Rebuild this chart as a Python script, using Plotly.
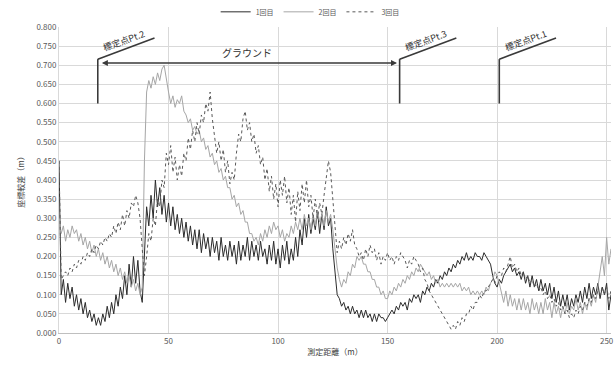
import plotly.graph_objects as go

# ---- data ----
distance_m = list(range(0, 253))

series1_label = "1回目"
series1 = [
    0.45, 0.10, 0.14, 0.08, 0.13, 0.09, 0.12, 0.07, 0.10, 0.06,
    0.09, 0.05, 0.08, 0.04, 0.06, 0.03, 0.05, 0.02, 0.04, 0.02,
    0.05, 0.03, 0.07, 0.04, 0.08, 0.05, 0.10, 0.07, 0.12, 0.09,
    0.15, 0.10, 0.18, 0.12, 0.20, 0.13, 0.19, 0.11, 0.08, 0.20,
    0.33, 0.28, 0.36, 0.30, 0.40, 0.33, 0.38, 0.31, 0.36, 0.29,
    0.34, 0.28, 0.33, 0.27, 0.31, 0.26, 0.30, 0.25, 0.29, 0.24,
    0.28, 0.23, 0.27, 0.22, 0.27, 0.21, 0.26, 0.22, 0.25, 0.20,
    0.25, 0.21, 0.24, 0.19, 0.25, 0.20, 0.23, 0.19, 0.24, 0.20,
    0.23, 0.18, 0.24, 0.19, 0.23, 0.20, 0.25, 0.19, 0.24, 0.20,
    0.23, 0.19, 0.24, 0.20, 0.22, 0.18, 0.23, 0.19, 0.24, 0.18,
    0.22, 0.17, 0.23, 0.19, 0.24, 0.18, 0.22, 0.19, 0.25, 0.20,
    0.27, 0.23, 0.30, 0.25, 0.31, 0.26, 0.30, 0.27, 0.32, 0.26,
    0.31, 0.27, 0.33, 0.28, 0.30, 0.22, 0.15, 0.10, 0.09, 0.07,
    0.08, 0.06, 0.07, 0.05, 0.07, 0.05, 0.06, 0.04, 0.06, 0.04,
    0.06, 0.04, 0.05, 0.03, 0.05, 0.03, 0.05, 0.04, 0.04, 0.03,
    0.04, 0.05, 0.06, 0.05, 0.07, 0.06, 0.08, 0.07, 0.08, 0.06,
    0.09, 0.08, 0.10, 0.09, 0.10, 0.08, 0.11, 0.10, 0.12, 0.11,
    0.13, 0.12, 0.14, 0.13, 0.15, 0.14, 0.16, 0.15, 0.17, 0.16,
    0.18, 0.17, 0.19, 0.18, 0.20, 0.19, 0.21, 0.19, 0.20, 0.19,
    0.21, 0.20, 0.20, 0.19, 0.21, 0.20, 0.19, 0.18, 0.15, 0.13,
    0.12, 0.14, 0.13, 0.15, 0.16, 0.17, 0.18, 0.16, 0.17, 0.15,
    0.16, 0.14, 0.16, 0.13, 0.15, 0.12, 0.15, 0.12, 0.14, 0.11,
    0.14, 0.11, 0.13, 0.10, 0.13, 0.09, 0.12, 0.08, 0.11, 0.07,
    0.10, 0.07, 0.10, 0.06, 0.09, 0.07, 0.10, 0.08, 0.11, 0.08,
    0.12, 0.09, 0.13, 0.09, 0.12, 0.10, 0.13, 0.09, 0.12, 0.10,
    0.13, 0.06, 0.10,
]

series2_label = "2回目"
series2 = [
    0.30, 0.26, 0.28, 0.24, 0.27, 0.25, 0.28, 0.26, 0.27, 0.24,
    0.26, 0.23, 0.25, 0.22, 0.24, 0.21, 0.23, 0.20, 0.22, 0.19,
    0.21, 0.18, 0.20, 0.17, 0.19, 0.16, 0.18, 0.15, 0.17, 0.14,
    0.16, 0.13, 0.15, 0.12, 0.14, 0.11, 0.13, 0.10, 0.12, 0.45,
    0.63, 0.66, 0.64, 0.67, 0.65, 0.68, 0.66, 0.69, 0.70, 0.66,
    0.63, 0.60, 0.62, 0.59, 0.61, 0.60, 0.62, 0.58, 0.57, 0.55,
    0.56, 0.53, 0.54, 0.52, 0.53, 0.50, 0.51, 0.48, 0.49, 0.46,
    0.47, 0.44, 0.45, 0.42, 0.43, 0.40, 0.41, 0.38, 0.38, 0.35,
    0.36, 0.33, 0.34, 0.31, 0.32, 0.29, 0.29, 0.26, 0.26, 0.24,
    0.25, 0.23, 0.26, 0.24, 0.27, 0.25, 0.28, 0.26, 0.29, 0.27,
    0.28, 0.25, 0.27, 0.24, 0.26, 0.25, 0.28, 0.26, 0.29, 0.27,
    0.30, 0.27, 0.31, 0.28, 0.30, 0.27, 0.31, 0.28, 0.32, 0.29,
    0.31, 0.28, 0.32, 0.29, 0.31, 0.27, 0.22, 0.17, 0.14, 0.12,
    0.14, 0.13, 0.16, 0.15, 0.18, 0.17, 0.20, 0.19, 0.20, 0.18,
    0.18, 0.16, 0.16, 0.14, 0.14, 0.12, 0.12, 0.10, 0.11, 0.09,
    0.09, 0.11, 0.10, 0.12, 0.11, 0.13, 0.12, 0.14, 0.13, 0.15,
    0.14, 0.16, 0.15, 0.17, 0.16, 0.18, 0.17, 0.16, 0.15, 0.16,
    0.14, 0.15, 0.13, 0.14, 0.12, 0.13, 0.12, 0.13, 0.12, 0.13,
    0.12, 0.13, 0.12, 0.13, 0.11, 0.12, 0.11, 0.12, 0.10, 0.11,
    0.10, 0.11, 0.10, 0.11, 0.10, 0.12, 0.11, 0.13, 0.14, 0.16,
    0.15, 0.13, 0.10, 0.08, 0.11, 0.07, 0.10, 0.07, 0.09, 0.06,
    0.09, 0.06, 0.09, 0.06, 0.08, 0.05, 0.09, 0.06, 0.08, 0.05,
    0.08, 0.05, 0.09, 0.06, 0.08, 0.04, 0.08, 0.05, 0.07, 0.04,
    0.07, 0.05, 0.08, 0.05, 0.07, 0.06, 0.09, 0.06, 0.08, 0.05,
    0.08, 0.06, 0.09, 0.07, 0.10, 0.08, 0.12, 0.16, 0.20, 0.15,
    0.25, 0.18, 0.22,
]

series3_label = "3回目"
series3 = [
    0.45, 0.14, 0.15, 0.16, 0.15, 0.17, 0.16, 0.18, 0.17, 0.19,
    0.18, 0.20, 0.19, 0.21, 0.20, 0.22, 0.21, 0.23, 0.22, 0.24,
    0.23, 0.25, 0.24, 0.26, 0.25, 0.28, 0.26, 0.29, 0.27, 0.31,
    0.28, 0.32, 0.30, 0.34, 0.33, 0.36, 0.34, 0.30, 0.22, 0.15,
    0.20, 0.26, 0.24, 0.30, 0.28, 0.35, 0.33, 0.40, 0.38, 0.47,
    0.44, 0.49, 0.42, 0.46, 0.40, 0.44, 0.41, 0.47, 0.45, 0.51,
    0.48, 0.53, 0.50, 0.55, 0.52, 0.57, 0.55, 0.60, 0.58, 0.63,
    0.56, 0.52, 0.47, 0.50, 0.45, 0.48, 0.42, 0.45, 0.39, 0.42,
    0.40, 0.47, 0.52, 0.50, 0.56, 0.58, 0.53, 0.55, 0.50, 0.52,
    0.47, 0.49, 0.44, 0.46, 0.40, 0.43, 0.37, 0.41, 0.35, 0.39,
    0.33, 0.40, 0.36, 0.41, 0.34, 0.38, 0.31, 0.36, 0.29, 0.37,
    0.32, 0.39, 0.34, 0.40, 0.33, 0.36, 0.30, 0.35, 0.30, 0.34,
    0.31, 0.36, 0.40, 0.45, 0.42, 0.35, 0.27, 0.21, 0.24, 0.22,
    0.25, 0.23, 0.26, 0.24, 0.27, 0.23, 0.22, 0.20, 0.21, 0.19,
    0.22, 0.20, 0.23, 0.21, 0.22, 0.19, 0.21, 0.18, 0.20, 0.19,
    0.21, 0.19, 0.20, 0.18, 0.20, 0.19, 0.21, 0.20, 0.19, 0.17,
    0.19, 0.18, 0.20, 0.19, 0.18, 0.16, 0.17, 0.14, 0.13, 0.11,
    0.10, 0.09, 0.08, 0.07, 0.06, 0.05, 0.04, 0.03, 0.02, 0.01,
    0.02, 0.01, 0.03, 0.02, 0.04, 0.03, 0.05, 0.05, 0.07, 0.06,
    0.08, 0.08, 0.10, 0.09, 0.11, 0.11, 0.12, 0.13, 0.14, 0.13,
    0.15, 0.16, 0.15, 0.17, 0.16, 0.18, 0.20, 0.17, 0.18, 0.16,
    0.17, 0.15, 0.16, 0.14, 0.15, 0.13, 0.14, 0.12, 0.13, 0.11,
    0.12, 0.10, 0.11, 0.09, 0.10, 0.08, 0.09, 0.07, 0.08, 0.06,
    0.07, 0.05, 0.06, 0.04, 0.05, 0.04, 0.06, 0.05, 0.07, 0.06,
    0.08, 0.07, 0.09, 0.08, 0.10, 0.09, 0.11, 0.10, 0.12, 0.10,
    0.12, 0.09, 0.11,
]

control_points = ["標定点Pt.2", "標定点Pt.3", "標定点Pt.1"]
control_x = [17.7, 155.5, 201.0]
ground_label = "グラウンド"

x_ticks = [0, 50, 100, 150, 200, 250]
y_ticks = [i * 0.05 for i in range(17)]

x_title = "測定距離（m）"
y_title = "座標較差（m）"

# ---- figure ----
FONT = "Noto Sans CJK JP"
fig = go.Figure()
fig.add_trace(go.Scatter(x=distance_m, y=series1, name=series1_label, mode="lines",
                         line=dict(color="#2b2b2b", width=1)))
fig.add_trace(go.Scatter(x=distance_m, y=series2, name=series2_label, mode="lines",
                         line=dict(color="#a6a6a6", width=1)))
fig.add_trace(go.Scatter(x=distance_m, y=series3, name=series3_label, mode="lines",
                         line=dict(color="#595959", width=1, dash="dot")))

ANN = "#3a3a3a"
base_y, top_y = 0.60, 0.716
slant_dx, slant_dy = 25.9, 0.055
for name, cx in zip(control_points, control_x):
    fig.add_shape(type="line", x0=cx, x1=cx, y0=base_y, y1=top_y,
                  line=dict(color=ANN, width=1.6), layer="above")
    fig.add_shape(type="line", x0=cx, x1=cx + slant_dx, y0=top_y, y1=top_y + slant_dy,
                  line=dict(color=ANN, width=1.6), layer="above")
    fig.add_annotation(x=cx + slant_dx * 0.5, y=top_y + slant_dy * 0.5, text=name,
                       showarrow=False, textangle=-20, yshift=8, xshift=-2,
                       font=dict(family=FONT, size=9, color="#333333"))

arrow_y = 0.706
fig.add_annotation(x=control_x[1] - 1.2, y=arrow_y, ax=control_x[0] + 1.2, ay=arrow_y,
                   xref="x", yref="y", axref="x", ayref="y", text="",
                   showarrow=True, arrowhead=2, arrowside="end+start",
                   arrowsize=0.8, arrowwidth=1.5, arrowcolor=ANN)
fig.add_annotation(x=(control_x[0] + control_x[1]) / 2 - 1, y=arrow_y, text=ground_label,
                   showarrow=False, yshift=10,
                   font=dict(family=FONT, size=10, color="#333333"))

fig.update_layout(
    width=615, height=370,
    margin=dict(l=59, r=4, t=27, b=37, autoexpand=False),
    paper_bgcolor="white", plot_bgcolor="white",
    font=dict(family=FONT, size=8, color="#595959"),
    showlegend=True,
    legend=dict(orientation="h", x=0.455, xanchor="center",
                yref="container", y=0.968, yanchor="middle",
                font=dict(family=FONT, size=7, color="#595959"),
                itemwidth=30, tracegroupgap=0, bgcolor="rgba(0,0,0,0)"),
    xaxis=dict(range=[0, 252], tickvals=x_ticks, showgrid=True, gridcolor="#d9d9d9",
               gridwidth=1, zeroline=False, showline=True, linecolor="#bfbfbf",
               ticks="", tickfont=dict(size=8, color="#595959"), automargin=False,
               ticklabeloverflow="allow",
               title=dict(text=x_title, font=dict(size=8, color="#404040"), standoff=4)),
    yaxis=dict(range=[0, 0.8], tickvals=y_ticks, tickformat=".3f", showgrid=True,
               gridcolor="#d9d9d9", gridwidth=1, zeroline=False, showline=True,
               linecolor="#d9d9d9", ticks="", tickfont=dict(size=8, color="#595959"),
               automargin=False,
               title=dict(text=y_title, font=dict(size=8, color="#404040"), standoff=10)),
)

fig.write_html("out.html", config={"displayModeBar": False},
               post_script="document.body.style.margin='0';document.body.style.overflow='hidden';")
